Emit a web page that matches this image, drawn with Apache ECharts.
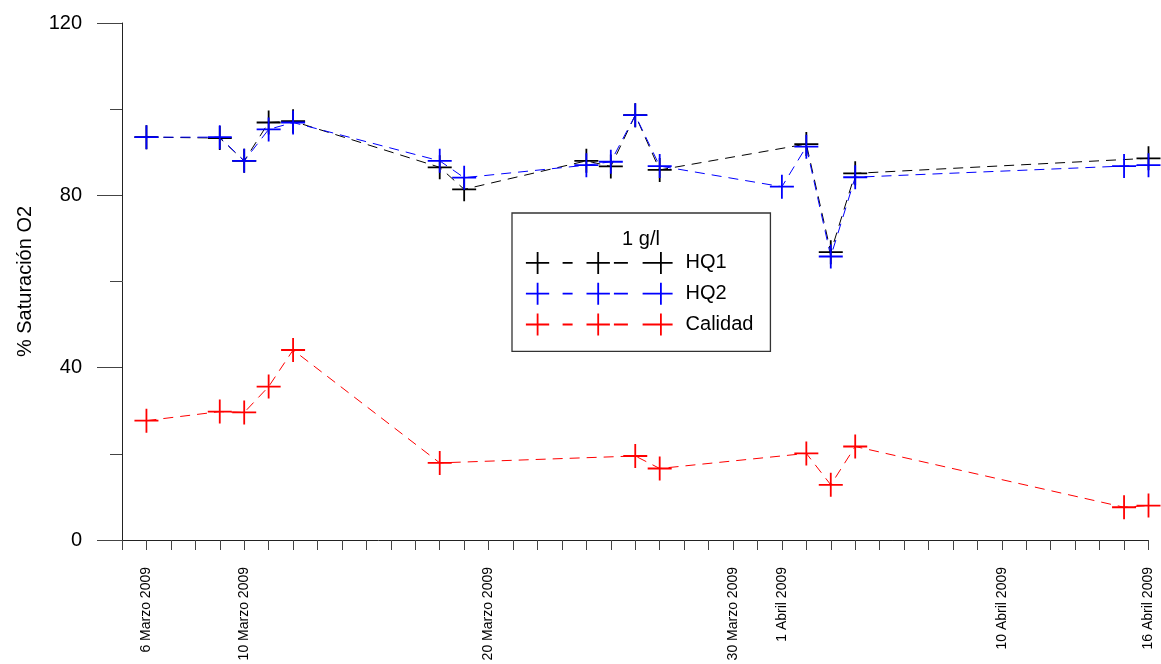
<!DOCTYPE html>
<html>
<head>
<meta charset="utf-8">
<title>% Saturación O2</title>
<script src="https://cdn.jsdelivr.net/npm/echarts@6/dist/echarts.min.js"></script>
<style>
  html, body { margin: 0; padding: 0; background: #fff; }
  #chart { width: 1161px; height: 664px; }
</style>
</head>
<body>
<div id="chart"></div>
<script>
// Fechas de muestreo y valores (% saturación O2)
const hq1Dates = ['2009-03-06', '2009-03-09', '2009-03-10', '2009-03-11', '2009-03-12', '2009-03-18', '2009-03-19',
  '2009-03-24', '2009-03-25', '2009-03-26', '2009-03-27', '2009-04-02', '2009-04-03', '2009-04-04', '2009-04-16']
const hq1Values = [93.5, 93.3, 88.0, 96.9, 97.2, 86.5, 81.4, 88.0, 86.7, 98.6, 85.9, 91.9, 66.8, 85.1, 88.6]

const hq2Dates = ['2009-03-06', '2009-03-09', '2009-03-10', '2009-03-11', '2009-03-12', '2009-03-18', '2009-03-19',
  '2009-03-24', '2009-03-25', '2009-03-26', '2009-03-27', '2009-04-01', '2009-04-02', '2009-04-03', '2009-04-04',
  '2009-04-15', '2009-04-16']
const hq2Values = [93.5, 93.5, 88.0, 95.3, 96.9, 88.0, 84.1, 87.0, 87.8, 98.6, 86.8, 82.0, 91.3, 65.8, 84.2, 86.8, 87.0]

const calDates = ['2009-03-06', '2009-03-09', '2009-03-10', '2009-03-11', '2009-03-12', '2009-03-18', '2009-03-26',
  '2009-03-27', '2009-04-02', '2009-04-03', '2009-04-04', '2009-04-15', '2009-04-16']
const calValues = [27.7, 29.8, 29.6, 35.6, 44.1, 17.9, 19.5, 16.6, 20.1, 12.8, 21.7, 7.6, 8.0]

// Etiquetas del eje X
const tickDates = ['2009-03-06', '2009-03-10', '2009-03-20', '2009-03-30', '2009-04-01', '2009-04-10', '2009-04-16']
const tickLabels = ['6 Marzo 2009', '10 Marzo 2009', '20 Marzo 2009', '30 Marzo 2009', '1 Abril 2009', '10 Abril 2009', '16 Abril 2009']

const yTicks = [0, 40, 80, 120]

// eje X en días desde el 5 de marzo de 2009
const DAY = 86400000
const startDay = Date.UTC(2009, 2, 5)
const dayIndex = (s) => {
  const [y, m, d] = s.split('-').map(Number)
  return Math.round((Date.UTC(y, m - 1, d) - startDay) / DAY)
}
const labelByDay = {}
tickDates.forEach((d, i) => { labelByDay[dayIndex(d)] = tickLabels[i] })

const FONT = '"Liberation Sans", Arial, sans-serif'
const PLUS = 'path://M0,12H24M12,0V24'
// icono de leyenda: tres cruces unidas por guiones
const LEGEND_ICON = 'path://M0,11H23.3M11.7,0V22M36.7,11H46.7M60.6,11H84M72.3,0V22M88,11H102M116.7,11H123.3M123.3,11H146.7M135,0V22'

const makeSeries = (name, dates, values, color) => ({
  name: name,
  type: 'line',
  data: dates.map((d, i) => [dayIndex(d), values[i]]),
  symbol: PLUS,
  symbolSize: 24,
  itemStyle: { color: 'transparent', borderColor: color, borderWidth: 1.8 },
  lineStyle: { color: color, width: 1, type: [10, 7] },
  emphasis: { disabled: true },
  z: 2
})

const legendItem = (name, color) => ({
  name: name,
  icon: LEGEND_ICON,
  itemStyle: { color: 'transparent', borderColor: color, borderWidth: 1.8 }
})

const chart = echarts.init(document.getElementById('chart'))

const option = {
  animation: false,
  backgroundColor: '#fff',
  textStyle: { fontFamily: FONT },
  grid: { left: 122, right: 12.5, top: 23, bottom: 124 },
  legend: {
    orient: 'vertical',
    left: 512,
    top: 213,
    padding: [38, 17, 15, 13],
    itemWidth: 146.7,
    itemHeight: 22,
    itemGap: 7,
    borderColor: '#333',
    borderWidth: 1.3,
    selectedMode: false,
    textStyle: { fontFamily: FONT, fontSize: 20, color: '#000', padding: [0, 0, 0, 8] },
    data: [legendItem('HQ1', '#000000'), legendItem('HQ2', '#0000ff'), legendItem('Calidad', '#ff0000')]
  },
  graphic: [{
    type: 'text',
    x: 641,
    y: 239,
    style: { text: '1 g/l', fontFamily: FONT, fontSize: 20, fill: '#000', align: 'center', verticalAlign: 'middle' }
  }],
  xAxis: {
    type: 'value',
    min: 0,
    max: dayIndex('2009-04-16'),
    interval: 1,
    axisLine: { lineStyle: { color: '#222', width: 1 } },
    axisTick: { show: true, length: 10, inside: false, lineStyle: { color: '#444' } },
    axisLabel: {
      rotate: 90,
      margin: 27,
      fontSize: 14,
      fontFamily: FONT,
      color: '#000',
      formatter: (v) => labelByDay[v] || ''
    },
    splitLine: { show: false }
  },
  yAxis: {
    type: 'value',
    min: yTicks[0],
    max: yTicks[yTicks.length - 1],
    interval: 40,
    name: '% Saturación O2',
    nameLocation: 'middle',
    nameGap: 87,
    nameRotate: 90,
    nameTextStyle: { fontFamily: FONT, fontSize: 20, color: '#000' },
    axisLine: { show: true, lineStyle: { color: '#222', width: 1 } },
    axisTick: { show: true, length: 25, lineStyle: { color: '#444' } },
    minorTick: { show: true, splitNumber: 2, length: 12, lineStyle: { color: '#444' } },
    axisLabel: { margin: 40, fontSize: 20, fontFamily: FONT, color: '#000' },
    splitLine: { show: false },
    minorSplitLine: { show: false }
  },
  series: [
    makeSeries('HQ1', hq1Dates, hq1Values, '#000000'),
    makeSeries('HQ2', hq2Dates, hq2Values, '#0000ff'),
    makeSeries('Calidad', calDates, calValues, '#ff0000')
  ]
}

chart.setOption(option)
window.addEventListener('resize', () => chart.resize())
</script>
</body>
</html>
